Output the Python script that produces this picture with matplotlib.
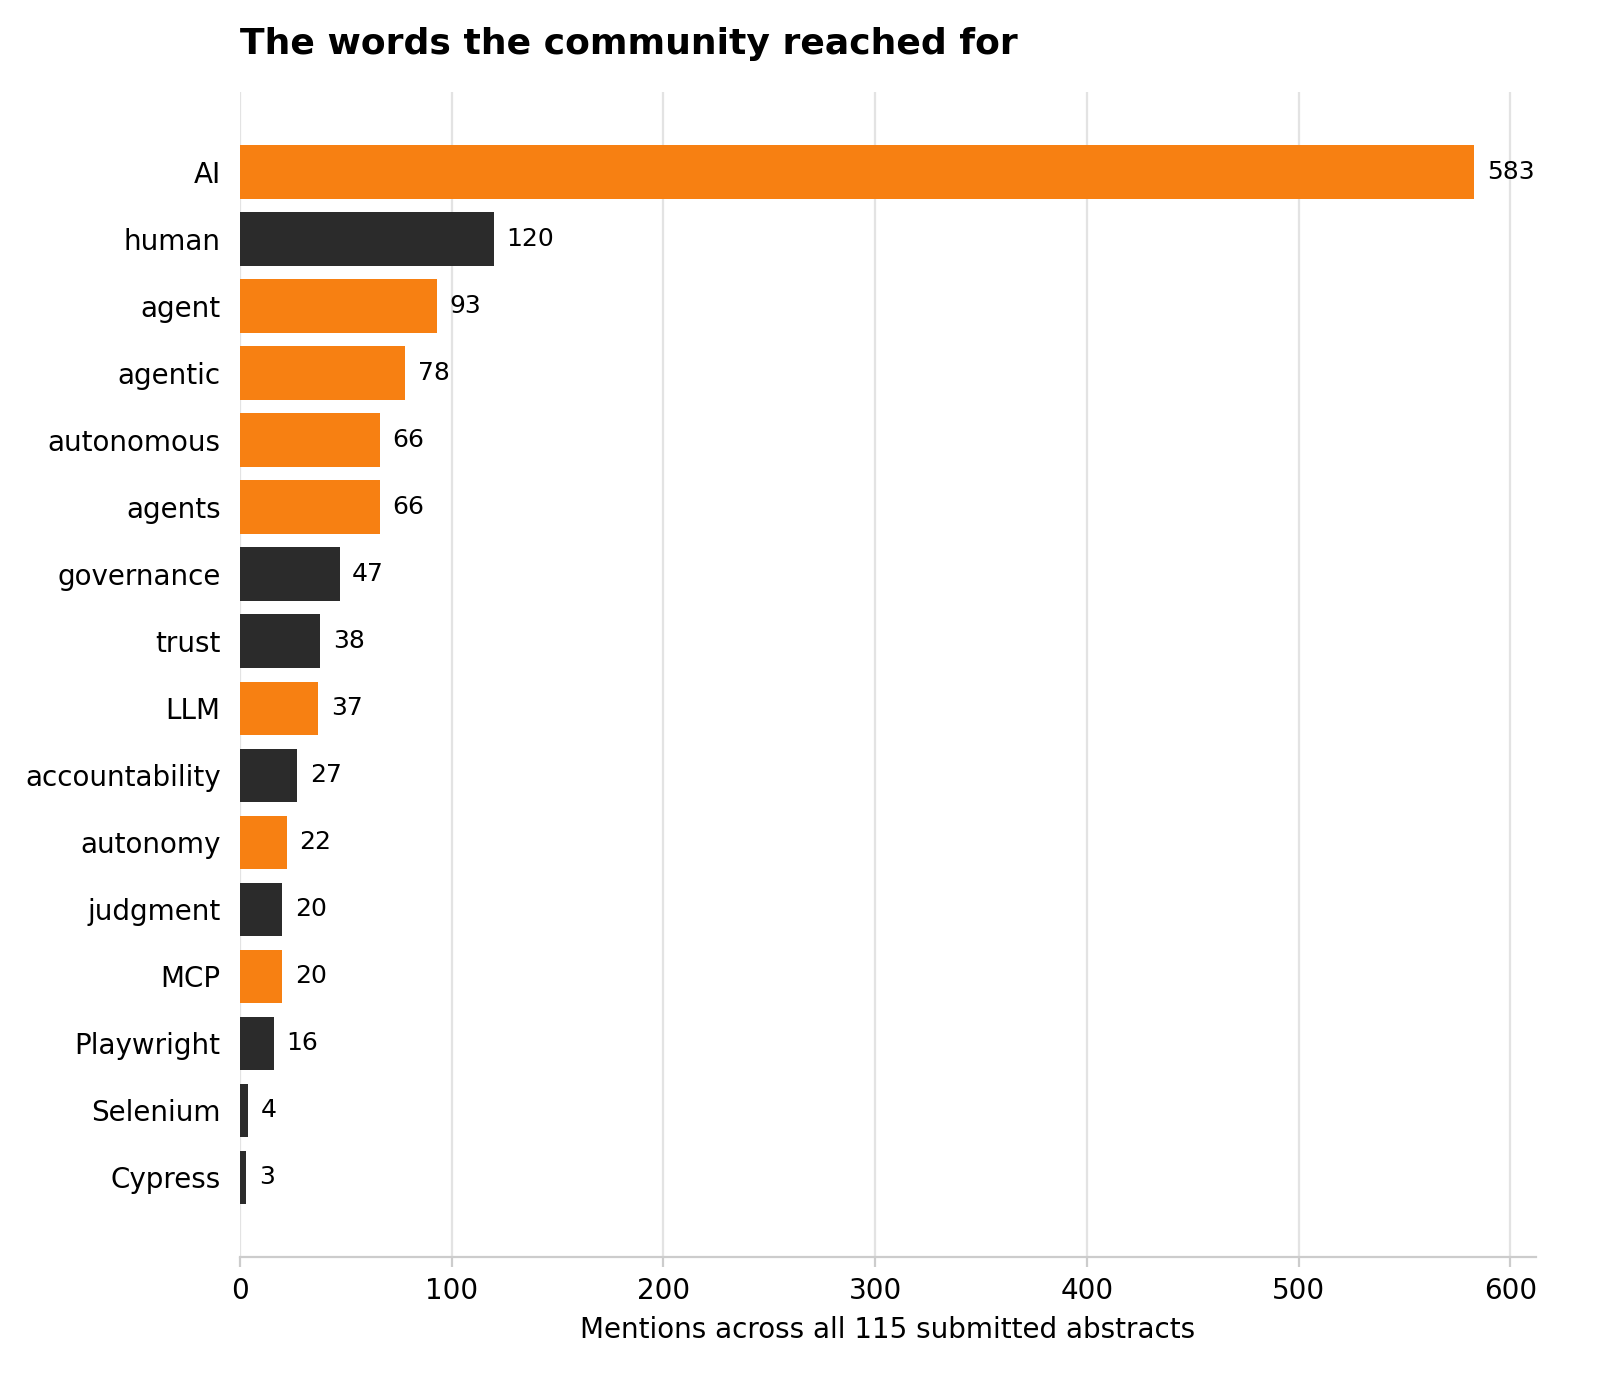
import matplotlib
matplotlib.use("Agg")
import matplotlib.pyplot as plt

words = ["AI", "human", "agent", "agentic", "autonomous", "agents", "governance",
         "trust", "LLM", "accountability", "autonomy", "judgment", "MCP",
         "Playwright", "Selenium", "Cypress"]
mentions = [583, 120, 93, 78, 66, 66, 47, 38, 37, 27, 22, 20, 20, 16, 4, 3]
ai_terms = {"AI", "agent", "agentic", "autonomous", "agents", "LLM", "autonomy", "MCP"}

ORANGE = "#F78012"
DARK = "#2B2B2B"

colors = [ORANGE if w in ai_terms else DARK for w in words]

fig, ax = plt.subplots(figsize=(8, 7), dpi=200)
fig.subplots_adjust(left=0.15, right=0.96, top=0.934, bottom=0.102)

ypos = list(range(len(words)))
ax.barh(ypos, mentions, height=0.8, color=colors, zorder=3)
ax.set_yticks(ypos)
ax.set_yticklabels(words, fontsize=10)
ax.invert_yaxis()

for y, v in zip(ypos, mentions):
    ax.annotate(str(v), (v, y), xytext=(4.5, 0), textcoords="offset points",
                va="center", ha="left", fontsize=9)

ax.set_xlim(0, max(mentions) * 1.05)
ax.set_xlabel("Mentions across all 115 submitted abstracts", fontsize=10)
ax.set_title("The words the community reached for", loc="left", fontsize=13,
             fontweight="bold", pad=14)

ax.grid(axis="x", color="#e3e3e3", linewidth=0.8, zorder=0)
for side in ["top", "right", "left"]:
    ax.spines[side].set_visible(False)
ax.spines["bottom"].set_color("#cccccc")
ax.tick_params(axis="y", length=0, pad=7)
ax.tick_params(axis="x", colors="#cccccc", labelcolor="black", labelsize=10)

fig.savefig("out.png", dpi=200)
plt.close(fig)
